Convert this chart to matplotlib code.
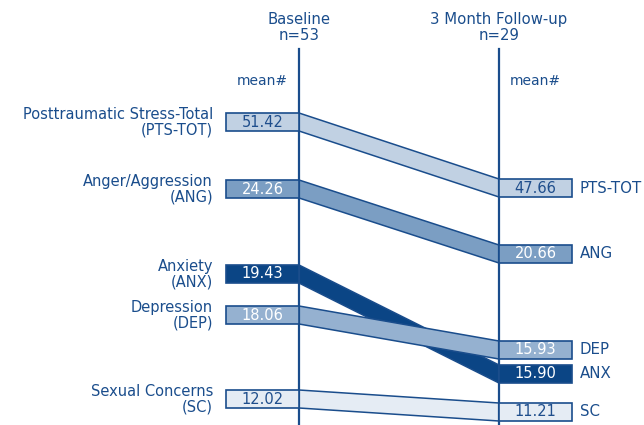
import matplotlib.pyplot as plt
from matplotlib.patches import Polygon, Rectangle

# данные
names = ["Posttraumatic Stress-Total", "Anger/Aggression", "Anxiety",
         "Depression", "Sexual Concerns"]
abbrevs = ["PTS-TOT", "ANG", "ANX", "DEP", "SC"]
baseline = [51.42, 24.26, 19.43, 18.06, 12.02]
followup = [47.66, 20.66, 15.90, 15.93, 11.21]
timepoints = ["Baseline", "3 Month Follow-up"]
sample_sizes = ["n=53", "n=29"]

# раскладка (верх прямоугольников, в пикселях)
left_top = [113, 180, 265, 306, 390]
right_top = [179, 245, 365, 341, 403]
fills = ["#c1d1e3", "#7b9ec3", "#0b4585", "#95b1d0", "#e5ecf4"]
text_colors = ["#1f4e8c", "white", "white", "white", "#1f4e8c"]

NAVY = "#1a4d8c"
X_L, X_R, BOX_W, BOX_H = 299, 499, 73, 18

plt.rcParams["font.family"] = ["DejaVu Sans"]
fig = plt.figure(figsize=(6.44, 4.25), dpi=100)
ax = fig.add_axes([0, 0, 1, 1])
ax.set_xlim(0, 644)
ax.set_ylim(425, 0)
ax.axis("off")

# ленты между точками
for i in range(len(baseline)):
    lt, rt = left_top[i], right_top[i]
    band = Polygon([(X_L, lt), (X_R, rt), (X_R, rt + BOX_H), (X_L, lt + BOX_H)],
                   closed=True, facecolor=fills[i], edgecolor=NAVY, lw=1.1, zorder=2)
    ax.add_patch(band)

# вертикальные оси
ax.plot([X_L, X_L], [49, 425], color=NAVY, lw=1.6, zorder=3)
ax.plot([X_R, X_R], [49, 425], color=NAVY, lw=1.6, zorder=3)

# прямоугольники со значениями и подписи
for i in range(len(baseline)):
    lc = left_top[i] + BOX_H / 2
    rc = right_top[i] + BOX_H / 2
    ax.add_patch(Rectangle((X_L - BOX_W, left_top[i]), BOX_W, BOX_H, facecolor=fills[i],
                           edgecolor=NAVY, lw=1.2, zorder=4))
    ax.add_patch(Rectangle((X_R, right_top[i]), BOX_W, BOX_H, facecolor=fills[i],
                           edgecolor=NAVY, lw=1.2, zorder=4))
    ax.text(X_L - BOX_W / 2, lc + 4.5, f"{baseline[i]:.2f}", color=text_colors[i],
            ha="center", va="baseline", fontsize=10.5, zorder=5)
    ax.text(X_R + BOX_W / 2, rc + 4.5, f"{followup[i]:.2f}", color=text_colors[i],
            ha="center", va="baseline", fontsize=10.5, zorder=5)
    ax.text(213, lc - 3, names[i], color=NAVY, ha="right", va="baseline", fontsize=10.5)
    ax.text(213, lc + 12.5, f"({abbrevs[i]})", color=NAVY, ha="right", va="baseline",
            fontsize=10.5)
    ax.text(580, rc + 4.5, abbrevs[i], color=NAVY, ha="left", va="baseline", fontsize=10.8)

# заголовки колонок
for x, title, n in zip([X_L, X_R], timepoints, sample_sizes):
    ax.text(x, 24, title, color=NAVY, ha="center", va="baseline", fontsize=10.7)
    ax.text(x, 40, n, color=NAVY, ha="center", va="baseline", fontsize=10.7)
ax.text(262, 85, "mean#", color=NAVY, ha="center", va="baseline", fontsize=10)
ax.text(535, 85, "mean#", color=NAVY, ha="center", va="baseline", fontsize=10)

fig.savefig("out.png", dpi=100)
